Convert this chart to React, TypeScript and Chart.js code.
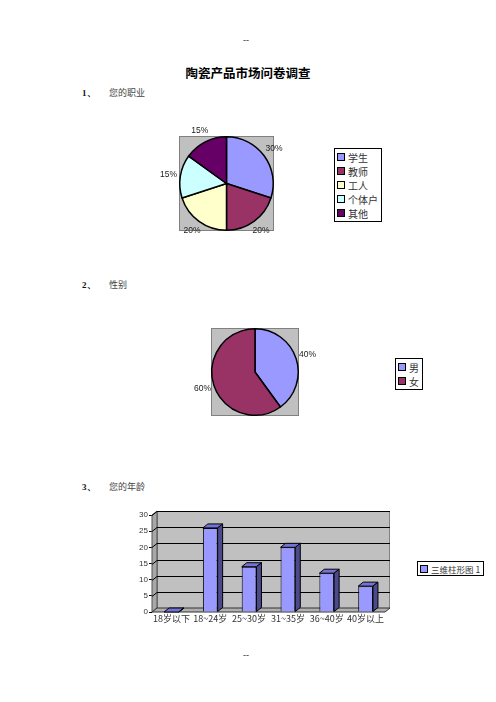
import { useEffect, useRef } from "react";
import { Chart, registerables } from "chart.js";

Chart.register(...registerables);

const jobLabels = ["学生", "教师", "工人", "个体户", "其他"];
const jobValues = [30, 20, 20, 15, 15];
const jobColors = ["#9999FF", "#993366", "#FFFFCC", "#CCFFFF", "#660066"];

const sexLabels = ["男", "女"];
const sexValues = [40, 60];
const sexColors = ["#9999FF", "#993366"];

const ageLabels = ["18岁以下", "18~24岁", "25~30岁", "31~35岁", "36~40岁", "40岁以上"];
const ageValues = [0, 26, 14, 20, 12, 8];
const ageSeries = "三维柱形图 1";
const ageMax = 30;
const ageStep = 5;

const CJK = "'Noto Sans CJK SC', 'DejaVu Sans', sans-serif";
const DEPTH_X = 5;
const DEPTH_Y = 4;

// gray plot area behind the pies
const plotBox = {
  id: "plotBox",
  beforeDatasetsDraw(chart: any) {
    const { ctx, chartArea: a } = chart;
    ctx.save();
    ctx.fillStyle = "#C0C0C0";
    ctx.fillRect(a.left, a.top, a.width, a.height);
    ctx.strokeStyle = "#808080";
    ctx.lineWidth = 1;
    ctx.strokeRect(a.left + 0.5, a.top + 0.5, a.width - 1, a.height - 1);
    ctx.restore();
  },
};

const pieLabels = {
  id: "pieLabels",
  afterDatasetsDraw(chart: any) {
    const { ctx } = chart;
    const vals = chart.data.datasets[0].data as number[];
    const total = vals.reduce((s, v) => s + v, 0);
    const meta = chart.getDatasetMeta(0);
    ctx.save();
    ctx.font = "8.5px 'Liberation Sans', Arial, sans-serif";
    ctx.fillStyle = "#222";
    ctx.textAlign = "center";
    ctx.textBaseline = "middle";
    meta.data.forEach((arc: any, i: number) => {
      const { x, y, startAngle, endAngle, outerRadius } = arc.getProps(
        ["x", "y", "startAngle", "endAngle", "outerRadius"],
        true
      );
      const mid = (startAngle + endAngle) / 2;
      const r = outerRadius + 12;
      ctx.fillText(`${Math.round((vals[i] / total) * 100)}%`, x + Math.cos(mid) * r, y + Math.sin(mid) * r);
    });
    ctx.restore();
  },
};

// fake 3d walls, floor and column faces
const bars3d = {
  id: "bars3d",
  beforeDatasetsDraw(chart: any) {
    const { ctx, chartArea: a, scales } = chart;
    const yS = scales.y;
    ctx.save();
    ctx.lineWidth = 1;
    // back wall
    ctx.fillStyle = "#C0C0C0";
    ctx.fillRect(a.left + DEPTH_X, a.top - DEPTH_Y, a.width, a.height);
    ctx.strokeStyle = "#808080";
    ctx.strokeRect(a.left + DEPTH_X + 0.5, a.top - DEPTH_Y + 0.5, a.width - 1, a.height);
    // left wall
    ctx.fillStyle = "#A8A8A8";
    ctx.beginPath();
    ctx.moveTo(a.left, a.top);
    ctx.lineTo(a.left + DEPTH_X, a.top - DEPTH_Y);
    ctx.lineTo(a.left + DEPTH_X, a.bottom - DEPTH_Y);
    ctx.lineTo(a.left, a.bottom);
    ctx.closePath();
    ctx.fill();
    ctx.strokeStyle = "#555";
    ctx.stroke();
    // floor
    ctx.fillStyle = "#B0B0B0";
    ctx.beginPath();
    ctx.moveTo(a.left, a.bottom);
    ctx.lineTo(a.left + DEPTH_X, a.bottom - DEPTH_Y);
    ctx.lineTo(a.right + DEPTH_X, a.bottom - DEPTH_Y);
    ctx.lineTo(a.right, a.bottom);
    ctx.closePath();
    ctx.fill();
    ctx.strokeStyle = "#333";
    ctx.stroke();
    // grid lines
    ctx.strokeStyle = "#000";
    for (let v = ageStep; v <= ageMax; v += ageStep) {
      const yf = Math.round(yS.getPixelForValue(v)) + 0.5;
      ctx.beginPath();
      ctx.moveTo(a.left, yf);
      ctx.lineTo(a.left + DEPTH_X, yf - DEPTH_Y);
      ctx.lineTo(a.right + DEPTH_X, yf - DEPTH_Y);
      ctx.stroke();
    }
    ctx.restore();
  },
  afterDatasetsDraw(chart: any) {
    const { ctx } = chart;
    const meta = chart.getDatasetMeta(0);
    ctx.save();
    ctx.lineWidth = 1;
    ctx.strokeStyle = "#000";
    meta.data.forEach((bar: any) => {
      const { x, y, base, width } = bar.getProps(["x", "y", "base", "width"], true);
      const l = x - width / 2;
      const r = x + width / 2;
      // top face
      ctx.fillStyle = "#7373D6";
      ctx.beginPath();
      ctx.moveTo(l, y);
      ctx.lineTo(l + DEPTH_X, y - DEPTH_Y);
      ctx.lineTo(r + DEPTH_X, y - DEPTH_Y);
      ctx.lineTo(r, y);
      ctx.closePath();
      ctx.fill();
      ctx.stroke();
      // side face
      ctx.fillStyle = "#4A4A8C";
      ctx.beginPath();
      ctx.moveTo(r, y);
      ctx.lineTo(r + DEPTH_X, y - DEPTH_Y);
      ctx.lineTo(r + DEPTH_X, base - DEPTH_Y);
      ctx.lineTo(r, base);
      ctx.closePath();
      ctx.fill();
      ctx.stroke();
    });
    ctx.restore();
  },
};

function ChartBox({ left, top, width, height, config }: any) {
  const canvasRef = useRef<HTMLCanvasElement | null>(null);

  useEffect(() => {
    if (!canvasRef.current) return;
    const chart = new Chart(canvasRef.current, config);
    return () => chart.destroy();
  }, [config]);

  return (
    <canvas
      ref={canvasRef}
      width={width}
      height={height}
      style={{ position: "absolute", left, top, width, height }}
    />
  );
}

function Legend({ labels, colors, left, top, width, rowHeight, fontSize }: any) {
  return (
    <div
      style={{
        position: "absolute",
        left,
        top,
        width,
        border: "1px solid #000",
        padding: "1px 0 1px 2px",
        background: "#fff",
        boxSizing: "border-box",
      }}
    >
      {labels.map((lab: string, i: number) => (
        <div
          key={lab}
          style={{ display: "flex", alignItems: "center", height: rowHeight, fontSize, fontFamily: CJK, color: "#333", whiteSpace: "nowrap" }}
        >
          <span
            style={{ display: "inline-block", width: 6, height: 6, border: "1px solid #000", background: colors[i], marginRight: 3 }}
          />
          {lab}
        </div>
      ))}
    </div>
  );
}

const pieOptions = (padding: any) => ({
  responsive: false,
  animation: false,
  layout: { padding },
  plugins: { legend: { display: false }, tooltip: { enabled: false } },
});

const jobConfig = {
  type: "pie",
  data: {
    labels: jobLabels,
    datasets: [{ data: jobValues, backgroundColor: jobColors, borderColor: "#000", borderWidth: 1.5 }],
  },
  options: pieOptions({ left: 29, top: 16, right: 26, bottom: 14 }),
  plugins: [plotBox, pieLabels],
};

const sexConfig = {
  type: "pie",
  data: {
    labels: sexLabels,
    datasets: [{ data: sexValues, backgroundColor: sexColors, borderColor: "#000", borderWidth: 1.5 }],
  },
  options: pieOptions({ left: 31, top: 13, right: 31, bottom: 14 }),
  plugins: [plotBox, pieLabels],
};

const ageConfig = {
  type: "bar",
  data: {
    labels: ageLabels,
    datasets: [
      {
        label: ageSeries,
        data: ageValues,
        backgroundColor: "#9999FF",
        borderColor: "#000",
        borderWidth: 1,
        barPercentage: 0.38,
        categoryPercentage: 1,
      },
    ],
  },
  options: {
    responsive: false,
    animation: false,
    layout: { padding: { left: 0, top: 15, right: 20, bottom: 0 } },
    plugins: { legend: { display: false }, tooltip: { enabled: false } },
    scales: {
      x: {
        grid: { display: false },
        border: { display: false },
        ticks: { color: "#333", padding: -7, font: { size: 9, family: CJK }, maxRotation: 0, autoSkip: false },
        afterFit: (s: any) => {
          s.height = 20;
        },
      },
      y: {
        min: 0,
        max: ageMax,
        grid: { drawOnChartArea: false, tickLength: 3, color: "#000" },
        border: { display: false },
        ticks: { stepSize: ageStep, color: "#333", padding: 1, font: { size: 8, family: "'Liberation Sans', Arial, sans-serif" } },
        afterFit: (s: any) => {
          s.width = 32;
        },
      },
    },
  },
  plugins: [bars3d],
};

const bodyText = { position: "absolute" as const, fontFamily: CJK, fontSize: 9, color: "#444", lineHeight: "12px" };
const numText = { position: "absolute" as const, fontFamily: "'Liberation Serif', serif", fontWeight: 700, fontSize: 9, lineHeight: "12px", color: "#111" };

export default function App() {
  return (
    <div style={{ position: "absolute", left: 0, top: 0, width: 496, height: 702, background: "#fff" }}>
      <div style={{ ...numText, left: 243, top: 34, fontWeight: 400 }}>--</div>
      <div
        style={{ position: "absolute", left: 0, width: 496, top: 65, textAlign: "center", fontFamily: CJK, fontWeight: 700, fontSize: 12.5, lineHeight: "16px", color: "#000" }}
      >
        陶瓷产品市场问卷调查
      </div>

      <div style={{ ...numText, left: 82, top: 87 }}>1、</div>
      <div style={{ ...bodyText, left: 109, top: 87 }}>您的职业</div>
      <ChartBox left={150} top={120} width={150} height={125} config={jobConfig} />
      <Legend labels={jobLabels} colors={jobColors} left={334} top={148} width={48} rowHeight={14} fontSize={10} />

      <div style={{ ...numText, left: 82, top: 279 }}>2、</div>
      <div style={{ ...bodyText, left: 109, top: 279 }}>性别</div>
      <ChartBox left={180} top={315} width={150} height={115} config={sexConfig} />
      <Legend labels={sexLabels} colors={sexColors} left={395} top={358} width={28} rowHeight={14} fontSize={10} />

      <div style={{ ...numText, left: 82, top: 481 }}>3、</div>
      <div style={{ ...bodyText, left: 109, top: 481 }}>您的年龄</div>
      <ChartBox left={120} top={500} width={285} height={132} config={ageConfig} />
      <Legend labels={[ageSeries]} colors={["#9999FF"]} left={417} top={561} width={67} rowHeight={11} fontSize={8.5} />

      <div style={{ ...numText, left: 243, top: 649, fontWeight: 400 }}>--</div>
    </div>
  );
}
